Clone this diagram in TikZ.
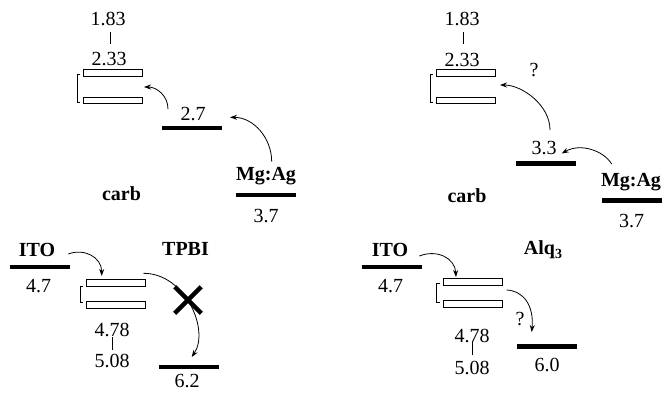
\documentclass[tikz,border=0pt]{standalone}
\usepackage{fontspec}
\setmainfont{Liberation Serif}
\usetikzlibrary{arrows.meta,shapes.misc}
\begin{document}
\begin{tikzpicture}[x=1pt,y=-1pt,
  lvl/.style={fill=black,minimum width=60pt,minimum height=4.5pt,inner sep=0pt},
  orb/.style={draw,line width=0.9pt,minimum width=59pt,minimum height=6.5pt,inner sep=0pt},
  num/.style={anchor=base,inner sep=0pt,font=\fontsize{20}{24}\selectfont},
  lab/.style={anchor=base,inner sep=0pt,font=\fontsize{20}{24}\selectfont\bfseries},
  arr/.style={-{Stealth[length=7pt,width=5pt]},line width=0.8pt},
  thinline/.style={line width=0.8pt}]
\useasboundingbox (0,0) rectangle (664,392);

% ---------------- left top ----------------
\node[num] (lt183) at (108,25) {1.83};
\node[num] (lt233) at (109,65.7) {2.33};
\node[orb] (ltr1) at (113.3,73) {};
\node[orb] (ltr2) at (113.3,100.3) {};
\draw[thinline] (110.7,32) -- (110.7,44);
\draw[thinline] (80,74) -- (77,74) -- (77,102.7) -- (80,102.7);
\node[lvl] (bar27) at (192,128.2) {};
\node[num] (t27) at (193,120) {2.7};
\node[lab] (mgL) at (266,180) {Mg:Ag};
\node[lvl] (barMgL) at (266.3,195) {};
\node[num] (t37L) at (266,222.5) {3.7};
\node[lab] (carbL) at (121.5,200) {carb};
\coordinate (a1s) at (168,109);
\coordinate (a1e) at (144,87);
\draw[arr] (a1s) .. controls (168,96) and (157,87) .. (a1e);
\coordinate (a2s) at (271.7,161.7);
\coordinate (a2e) at (230,117.3);
\draw[arr] (a2s) .. controls (271.7,137.5) and (253,117.3) .. (a2e);

% ---------------- left bottom ----------------
\node[lab] (itoL) at (37,256) {ITO};
\node[lvl] (barItoL) at (39.5,267.2) {};
\node[num] (t47L) at (38.7,292) {4.7};
\node[lab] (tpbi) at (185.5,255) {TPBI};
\node[orb] (lbr1) at (115.8,283) {};
\node[orb] (lbr2) at (115.8,305) {};
\draw[thinline] (83,286.7) -- (80,286.7) -- (80,302.3) -- (83,302.3);
\node[num] (lb478) at (112,336.7) {4.78};
\draw[thinline] (112.7,337) -- (112.7,350);
\node[num] (lb508) at (112,367) {5.08};
\node[lvl] (bar62) at (188.7,367.2) {};
\node[num] (t62) at (187,387.5) {6.2};
\coordinate (a3s) at (68.3,254);
\coordinate (a3e) at (101.7,276);
\draw[arr] (a3s) .. controls (84,248) and (101.7,257) .. (a3e);
\coordinate (a4s) at (143.3,273.3);
\coordinate (a4e) at (191.7,357);
\draw[arr] (a4s) .. controls (185,273) and (210,330) .. (a4e);
\node[cross out,draw,line width=4.5pt,minimum size=22pt,inner sep=0pt] (xmark) at (188,300) {};

% ---------------- right top ----------------
\node[num] (rt183) at (462,25.7) {1.83};
\node[num] (rt233) at (462,66.7) {2.33};
\node[orb] (rtr1) at (466.3,73) {};
\node[orb] (rtr2) at (466.3,100.3) {};
\draw[thinline] (463.3,32) -- (463.3,44);
\draw[thinline] (433.3,74) -- (430.3,74) -- (430.3,102.7) -- (433.3,102.7);
\node[num] (q1) at (534,76) {?};
\node[lvl] (bar33) at (545.5,163.3) {};
\node[num] (t33) at (544,154) {3.3};
\node[lab] (mgR) at (631,186.5) {Mg:Ag};
\node[lvl] (barMgR) at (631.7,200.5) {};
\node[num] (t37R) at (631.7,227) {3.7};
\node[lab] (carbR) at (467,202.7) {carb};
\coordinate (a5s) at (550,130);
\coordinate (a5e) at (500,85);
\draw[arr] (a5s) .. controls (550,105) and (522,85) .. (a5e);
\coordinate (a6s) at (611.7,164);
\coordinate (a6e) at (561.7,153.5);
\draw[arr] (a6s) .. controls (603,150) and (580,143) .. (a6e);

% ---------------- right bottom ----------------
\node[lab] (itoR) at (390,256.7) {ITO};
\node[lvl] (barItoR) at (391.7,267.2) {};
\node[num] (t47R) at (390.5,292) {4.7};
\node[lab] (alq) at (543,254) {Alq\raisebox{-4pt}{\fontsize{14}{14}\selectfont 3}};
\node[orb] (rbr1) at (472.5,282) {};
\node[orb] (rbr2) at (472.5,303.8) {};
\draw[thinline] (439.5,283) -- (436.7,283) -- (436.7,302) -- (439.5,302);
\node[num] (rb478) at (472,342) {4.78};
\draw[thinline] (472.7,342) -- (472.7,355);
\node[num] (rb508) at (472,374) {5.08};
\node[num] (q2) at (520,325) {?};
\node[lvl] (bar60) at (546.7,346.7) {};
\node[num] (t60) at (547,371) {6.0};
\coordinate (a7s) at (419.3,256);
\coordinate (a7e) at (456,277);
\draw[arr] (a7s) .. controls (437,249) and (455,258) .. (a7e);
\coordinate (a8s) at (506.7,290);
\coordinate (a8e) at (531.7,332);
\draw[arr] (a8s) .. controls (524,291) and (534,306) .. (a8e);
\end{tikzpicture}
\end{document}
